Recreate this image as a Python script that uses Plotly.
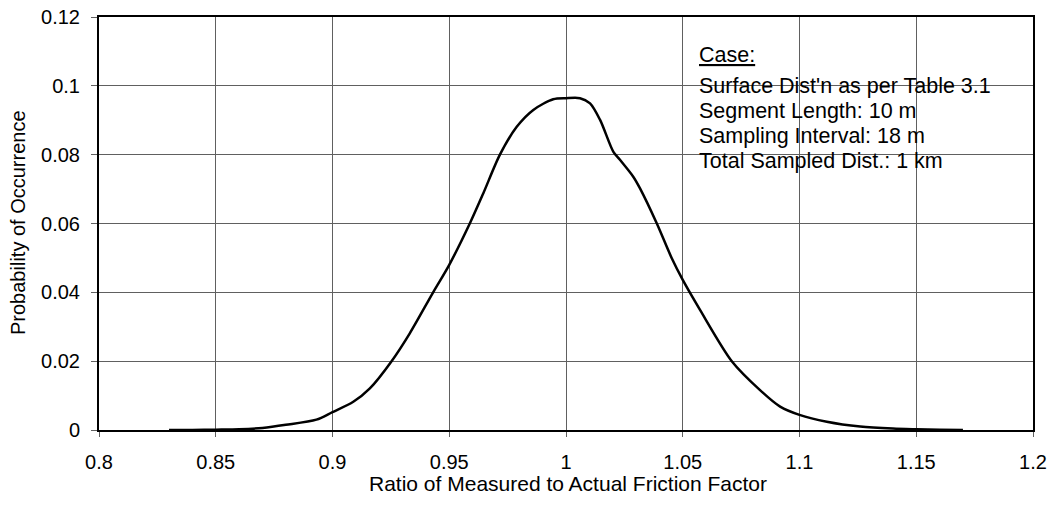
import plotly.graph_objects as go

ratio = [0.83, 0.84, 0.85, 0.86, 0.87, 0.88, 0.8931, 0.90, 0.9089, 0.916, 0.9253, 0.9331,
         0.9431, 0.95, 0.9588, 0.9646, 0.9717, 0.9789, 0.986, 0.9945, 1.0, 1.006, 1.0103,
         1.0146, 1.0203, 1.0231, 1.0288, 1.0317, 1.0389, 1.0453, 1.05, 1.0574, 1.071,
         1.0831, 1.0917, 1.10, 1.1117, 1.126, 1.14, 1.15, 1.16, 1.17]
prob = [0.0, 0.00003, 0.0001, 0.0002, 0.0006, 0.0015, 0.0030, 0.0052, 0.0082, 0.0121, 0.0200,
        0.0281, 0.0400, 0.0480, 0.0600, 0.0688, 0.0800, 0.0881, 0.0930, 0.0961, 0.0964,
        0.0964, 0.0949, 0.0901, 0.0808, 0.0785, 0.0736, 0.0702, 0.0600, 0.0499, 0.0436,
        0.0349, 0.0200, 0.0116, 0.0068, 0.0044, 0.0024, 0.0010, 0.0004, 0.0002, 0.00005, 0.0]

x_ticks = [0.8, 0.85, 0.9, 0.95, 1.0, 1.05, 1.1, 1.15, 1.2]
x_labels = ["0.8", "0.85", "0.9", "0.95", "1", "1.05", "1.1", "1.15", "1.2"]
y_ticks = [0, 0.02, 0.04, 0.06, 0.08, 0.1, 0.12]
y_labels = ["0", "0.02", "0.04", "0.06", "0.08", "0.1", "0.12"]

x_title = "Ratio of Measured to Actual Friction Factor"
y_title = "Probability of Occurrence"
case_lines = ["<u>Case:</u>", "Surface Dist'n as per Table 3.1", "Segment Length: 10 m",
              "Sampling Interval: 18 m", "Total Sampled Dist.: 1 km"]

FONT = "Liberation Sans, Arial, sans-serif"
L, R, T, B = 99, 1033, 17, 430
W, H = 1051, 508


def px_x(p):
    return (p - L) / (R - L)


def px_y(p):
    return (B - p) / (B - T)


fig = go.Figure()
fig.add_trace(go.Scatter(x=ratio, y=prob, mode="lines",
                         line=dict(color="black", width=2.5, shape="spline", smoothing=0.8),
                         showlegend=False, hoverinfo="skip"))

fig.update_layout(
    width=W, height=H,
    margin=dict(l=L, r=W - R, t=T, b=H - B, autoexpand=False),
    paper_bgcolor="white", plot_bgcolor="white",
    font=dict(family=FONT, size=20, color="black"),
    xaxis=dict(range=[0.8, 1.2], tickvals=x_ticks, ticktext=x_labels,
               showgrid=True, gridcolor="#606060", gridwidth=1,
               showline=True, linecolor="black", linewidth=2, mirror=True,
               ticks="outside", ticklen=5, tickcolor="#606060", zeroline=False,
               ticklabelstandoff=8, automargin=False,
               tickfont=dict(size=20)),
    yaxis=dict(range=[0, 0.12], tickvals=y_ticks, ticktext=y_labels,
               showgrid=True, gridcolor="#606060", gridwidth=1,
               showline=True, linecolor="black", linewidth=2, mirror=True,
               ticks="outside", ticklen=6, tickcolor="#606060", zeroline=False,
               ticklabelstandoff=7, automargin=False,
               tickfont=dict(size=20)),
)

# axis titles
fig.add_annotation(x=px_x(568), y=px_y(483), xref="paper", yref="paper", text=x_title,
                   showarrow=False, xanchor="center", yanchor="middle",
                   font=dict(family=FONT, size=21, color="black"))
fig.add_annotation(x=px_x(18), y=px_y(223), xref="paper", yref="paper", text=y_title,
                   showarrow=False, xanchor="center", yanchor="middle", textangle=-90,
                   font=dict(family=FONT, size=20, color="black"))

# white text box hiding gridlines
fig.add_shape(type="rect", xref="paper", yref="paper",
              x0=px_x(692), x1=px_x(1000), y0=px_y(187), y1=px_y(38),
              fillcolor="white", line=dict(width=0), layer="below")

line_y_px = [55, 86, 111, 136, 161]
for txt, py in zip(case_lines, line_y_px):
    fig.add_annotation(x=px_x(697), y=px_y(py), xref="paper", yref="paper",
                       text=txt, showarrow=False,
                       xanchor="left", yanchor="middle", align="left",
                       font=dict(family=FONT, size=21.5, color="black"))

fig.write_html("out.html")
